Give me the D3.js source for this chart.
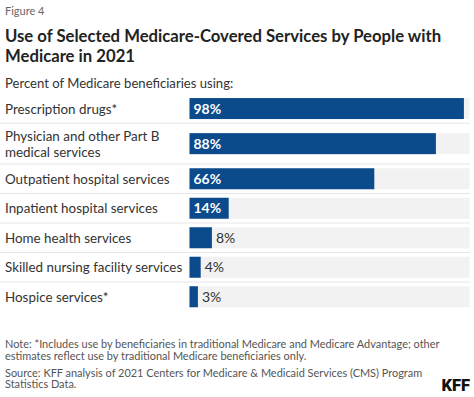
<!DOCTYPE html>
<html>
<head>
<meta charset="utf-8">
<script src="https://cdn.jsdelivr.net/npm/d3@7"></script>
<style>
  body { margin: 0; background: #fff; }
  svg { display: block; font-family: Lato, "Open Sans", sans-serif; }
</style>
</head>
<body>
<svg width="474" height="397"></svg>
<script>
const categories = [
    ['Prescription drugs*'],
    ['Physician and other Part B', 'medical services'],
    ['Outpatient hospital services'],
    ['Inpatient hospital services'],
    ['Home health services'],
    ['Skilled nursing facility services'],
    ['Hospice services*']
];
const values = [98, 88, 66, 14, 8, 4, 3];
const titleLines = ['Use of Selected Medicare-Covered Services by People with', 'Medicare in 2021'];
const noteLines = ['Note: *Includes use by beneficiaries in traditional Medicare and Medicare Advantage; other',
    'estimates reflect use by traditional Medicare beneficiaries only.'];
const sourceLines = ['Source: KFF analysis of 2021 Centers for Medicare & Medicaid Services (CMS) Program',
    'Statistics Data.'];

const svg = d3.select('svg');
const blue = '#0b4a8b';

svg.append('text')
    .attr('x', 5).attr('y', 15)
    .attr('font-size', 11).attr('fill', '#666')
    .text('Figure 4');

svg.append('g').selectAll('text')
    .data(titleLines)
    .join('text')
        .attr('x', 5)
        .attr('y', (d, i) => 41.5 + i * 20)
        .attr('font-size', 16.7).attr('font-weight', 700).attr('fill', '#222')
        .text(d => d);

svg.append('text')
    .attr('x', 5).attr('y', 87.5)
    .attr('font-size', 13.1).attr('fill', '#333')
    .text('Percent of Medicare beneficiaries using:');

// rows: single-line rows are shorter than two-line rows
const rowH = d => d.length > 1 ? 40.7 : 29.5;
const tops = [];
categories.reduce((acc, d) => { tops.push(acc); return acc + rowH(d); }, 93.8);

const x = d3.scaleLinear().domain([0, 100]).range([189.5, 469.5]);
const barH = 21;

const rows = svg.append('g').attr('class', 'rows')
    .selectAll('.row')
    .data(values.map((v, i) => ({ v, label: categories[i], top: tops[i], h: rowH(categories[i]) })))
    .join('g')
        .attr('class', 'row')
        .attr('transform', d => `translate(0,${d.top})`);

rows.filter((d, i) => i > 0).append('line')
    .attr('x1', 0).attr('x2', 470)
    .attr('y1', 0).attr('y2', 0)
    .attr('stroke', '#e6e6e6').attr('stroke-width', 1);

rows.append('rect')
    .attr('x', x(0)).attr('y', d => d.h / 2 - barH / 2)
    .attr('width', x(100) - x(0)).attr('height', barH)
    .attr('fill', '#f2f2f2');

rows.append('rect')
    .attr('x', x(0)).attr('y', d => d.h / 2 - barH / 2)
    .attr('width', d => x(d.v) - x(0)).attr('height', barH)
    .attr('fill', blue);

rows.append('text')
    .attr('font-size', 13.4).attr('fill', '#333')
    .selectAll('tspan')
    .data(d => d.label.map((t, i) => ({ t, i, n: d.label.length, h: d.h })))
    .join('tspan')
        .attr('x', 5)
        .attr('y', d => d.h / 2 + 5 - (d.n - 1) * 8 + d.i * 16)
        .text(d => d.t);

const inside = d => d.v > 10;
rows.append('text')
    .attr('x', d => inside(d) ? x(0) + 4 : x(d.v) + 4)
    .attr('y', d => d.h / 2 + 5)
    .attr('font-size', 14)
    .attr('font-weight', d => inside(d) ? 700 : 400)
    .attr('fill', d => inside(d) ? '#fff' : '#333')
    .text(d => d.v + '%');

svg.append('g').selectAll('text')
    .data(noteLines.map((t, i) => ({ t, y: 348 + i * 11.7 }))
        .concat(sourceLines.map((t, i) => ({ t, y: 376.7 + i * 11.7 }))))
    .join('text')
        .attr('x', 5).attr('y', d => d.y)
        .attr('font-size', 10.95).attr('fill', '#555')
        .text(d => d.t);

svg.append('text')
    .attr('x', 470).attr('y', 391)
    .attr('text-anchor', 'end')
    .attr('font-family', 'Roboto, sans-serif')
    .attr('font-size', 16.5).attr('font-weight', 900).attr('fill', '#111')
    .text('KFF');
</script>
</body>
</html>
